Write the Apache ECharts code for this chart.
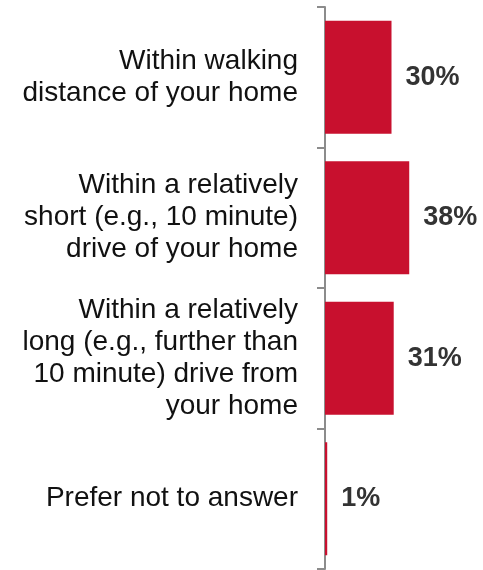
<!DOCTYPE html>
<html>
<head>
<meta charset="utf-8">
<script src="https://cdn.jsdelivr.net/npm/echarts@6/dist/echarts.min.js"></script>
<style>
  html, body { margin: 0; padding: 0; background: #fff; }
  #chart { width: 483px; height: 570px; }
</style>
</head>
<body>
<div id="chart"></div>
<script>
  var categories = [
    'Within walking\ndistance of your home',
    'Within a relatively\nshort (e.g., 10 minute)\ndrive of your home',
    'Within a relatively\nlong (e.g., further than\n10 minute) drive from\nyour home',
    'Prefer not to answer'
  ];
  var values = [30, 38, 31, 1];

  var myChart = echarts.init(document.getElementById('chart'));

  var option = {
    animation: false,
    grid: { left: 325, right: 25, top: 7, bottom: 1, containLabel: false },
    xAxis: {
      type: 'value',
      min: 0,
      max: 60,
      show: false
    },
    yAxis: {
      type: 'category',
      inverse: true,
      data: categories,
      axisLine: { show: true, lineStyle: { color: '#8c8c8c', width: 2 } },
      axisTick: { show: true, length: 8, lineStyle: { color: '#8c8c8c', width: 2 } },
      axisLabel: {
        margin: 27,
        color: '#111',
        fontFamily: "'Liberation Sans', Arial, sans-serif",
        fontSize: 28,
        lineHeight: 32,
        align: 'right'
      }
    },
    series: [{
      type: 'bar',
      data: values,
      barWidth: 113,
      itemStyle: { color: '#c8102e' },
      label: {
        show: true,
        position: 'right',
        distance: 14,
        formatter: '{c}%',
        color: '#333',
        fontWeight: 'bold',
        fontFamily: "'Liberation Sans', Arial, sans-serif",
        fontSize: 27
      }
    }]
  };

  myChart.setOption(option);
</script>
</body>
</html>
